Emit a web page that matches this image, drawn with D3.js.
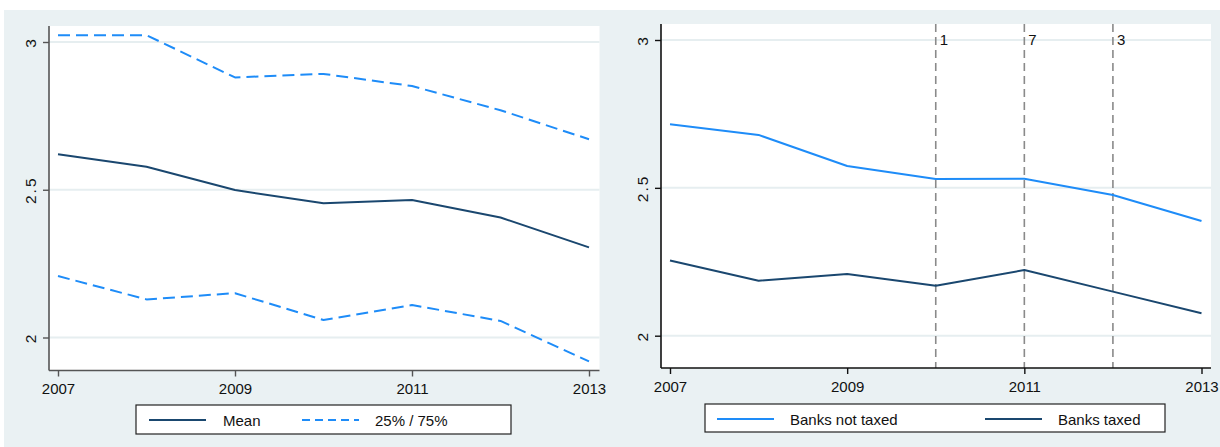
<!DOCTYPE html>
<html>
<head>
<meta charset="utf-8">
<script src="https://cdn.jsdelivr.net/npm/d3@7/dist/d3.min.js"></script>
<style>
  html, body { margin: 0; padding: 0; background: #ffffff; }
  svg { display: block; font-family: "Liberation Sans", Arial, sans-serif; }
</style>
</head>
<body>
<svg id="chart" width="1220" height="447"></svg>
<script>
// Years on the horizontal axis
const years = [2007, 2008, 2009, 2010, 2011, 2012, 2013];

// Left panel: mean and interquartile bounds
const meanVals = [2.620, 2.578, 2.499, 2.454, 2.465, 2.406, 2.305];
const p75Vals  = [3.023, 3.023, 2.880, 2.892, 2.851, 2.769, 2.671];
const p25Vals  = [2.208, 2.129, 2.150, 2.059, 2.110, 2.056, 1.919];

// Right panel: banks not taxed vs taxed
const notTaxedVals = [2.715, 2.679, 2.574, 2.530, 2.531, 2.476, 2.388];
const taxedVals    = [2.254, 2.186, 2.209, 2.169, 2.222, 2.149, 2.076];

// Reference years with counts of banks newly taxed
const refYears  = [2010, 2011, 2012];
const refLabels = ["1", "7", "3"];

const yTicks = [2, 2.5, 3];
const xTicks = [2007, 2009, 2011, 2013];

const NAVY = "#1a476f";
const BLUE = "#1e8cf8";
const BG = "#eaf1f3";
const GRID = "#e6eef0";

const svg = d3.select("#chart");

// Outer graph region
svg.append("rect").attr("x", 4).attr("y", 10).attr("width", 1216).attr("height", 437).attr("fill", BG);

function panel(cfg) {
  const g = svg.append("g");
  const x = d3.scaleLinear().domain([2007, 2013]).range(cfg.xr);
  const y = d3.scaleLinear().domain([2, 3]).range(cfg.yr);

  g.append("rect")
    .attr("x", cfg.px0).attr("y", cfg.py0)
    .attr("width", cfg.px1 - cfg.px0).attr("height", cfg.py1 - cfg.py0)
    .attr("fill", "#ffffff");

  // horizontal gridlines
  g.selectAll("line.grid").data(yTicks).join("line")
    .attr("class", "grid")
    .attr("x1", cfg.px0).attr("x2", cfg.px1)
    .attr("y1", d => y(d)).attr("y2", d => y(d))
    .attr("stroke", GRID).attr("stroke-width", 2);

  // reference lines
  if (cfg.refs) {
    g.selectAll("line.ref").data(refYears).join("line")
      .attr("class", "ref")
      .attr("x1", d => x(d)).attr("x2", d => x(d))
      .attr("y1", cfg.py0).attr("y2", cfg.py1)
      .attr("stroke", "#8a8a8a").attr("stroke-width", 1.6)
      .attr("stroke-dasharray", "8,5");
    g.selectAll("text.ref").data(refYears).join("text")
      .attr("class", "ref")
      .attr("x", d => x(d) + 4).attr("y", cfg.py0 + 21)
      .attr("font-size", 15).attr("fill", "#111")
      .text((d, i) => refLabels[i]);
  }

  // series
  const line = d3.line().x((d, i) => x(years[i])).y(d => y(d));
  cfg.series.forEach(s => {
    g.append("path").datum(s.values)
      .attr("d", line)
      .attr("fill", "none")
      .attr("stroke", s.color)
      .attr("stroke-width", 2)
      .attr("stroke-linejoin", "round")
      .attr("stroke-dasharray", s.dash || null);
  });

  // y axis
  const ya = g.append("g").attr("transform", `translate(${cfg.px0},0)`)
    .call(d3.axisLeft(y).tickValues(yTicks).tickSize(6).tickSizeOuter(0).tickFormat(d3.format("")));
  ya.select(".domain").attr("d", `M0,${cfg.py0}V${cfg.py1}`).attr("stroke", cfg.axisColor).attr("stroke-width", 1.6);
  ya.selectAll(".tick line").attr("stroke", cfg.axisColor).attr("stroke-width", 1.4);
  ya.selectAll(".tick text")
    .attr("x", null).attr("dy", null)
    .attr("transform", `translate(${cfg.ylabX - cfg.px0},0) rotate(-90)`)
    .attr("text-anchor", "middle")
    .attr("font-size", 15.5).attr("letter-spacing", "2px")
    .attr("font-family", "Liberation Sans, Arial, sans-serif")
    .attr("fill", "#111");

  // x axis
  const xa = g.append("g").attr("transform", `translate(0,${cfg.py1})`)
    .call(d3.axisBottom(x).tickValues(xTicks).tickSize(6).tickSizeOuter(0).tickFormat(d3.format("d")));
  xa.select(".domain").attr("d", `M${cfg.px0},0H${cfg.px1}`).attr("stroke", cfg.axisColor).attr("stroke-width", 1.6);
  xa.selectAll(".tick line").attr("stroke", cfg.axisColor).attr("stroke-width", 1.4);
  xa.selectAll(".tick text")
    .attr("y", cfg.xlabBase - cfg.py1).attr("dy", null)
    .attr("font-size", 15).attr("font-family", "Liberation Sans, Arial, sans-serif")
    .attr("fill", "#111");

  // legend
  const L = cfg.legend;
  g.append("rect").attr("x", L.x).attr("y", L.y).attr("width", L.w).attr("height", L.h)
    .attr("fill", "#fff").attr("stroke", "#222").attr("stroke-width", 1.2);
  L.items.forEach(it => {
    g.append("line").attr("x1", it.lx).attr("x2", it.lx + 57)
      .attr("y1", L.y + 15).attr("y2", L.y + 15)
      .attr("stroke", it.color).attr("stroke-width", 2)
      .attr("stroke-dasharray", it.dash || null);
    g.append("text").attr("x", it.tx).attr("y", L.y + 21)
      .attr("font-size", 15).attr("fill", "#111").text(it.label);
  });
}

panel({
  px0: 49, px1: 599.5, py0: 26, py1: 370.5,
  xr: [58, 589], yr: [337.5, 42],
  ylabX: 36, xlabBase: 394, axisColor: "#555",
  series: [
    { values: meanVals, color: NAVY },
    { values: p75Vals, color: BLUE, dash: "12,6" },
    { values: p25Vals, color: BLUE, dash: "12,6" }
  ],
  legend: {
    x: 136, y: 405, w: 375, h: 29,
    items: [
      { lx: 149, tx: 223, label: "Mean", color: NAVY },
      { lx: 302, tx: 375, label: "25% / 75%", color: BLUE, dash: "8,5" }
    ]
  }
});

panel({
  px0: 661, px1: 1211, py0: 24, py1: 368,
  xr: [670, 1201.5], yr: [335.7, 40],
  ylabX: 648, xlabBase: 392, axisColor: "#111",
  refs: true,
  series: [
    { values: notTaxedVals, color: BLUE },
    { values: taxedVals, color: NAVY }
  ],
  legend: {
    x: 705, y: 404, w: 460, h: 28,
    items: [
      { lx: 717, tx: 790, label: "Banks not taxed", color: BLUE },
      { lx: 985, tx: 1058, label: "Banks taxed", color: NAVY }
    ]
  }
});
</script>
</body>
</html>
